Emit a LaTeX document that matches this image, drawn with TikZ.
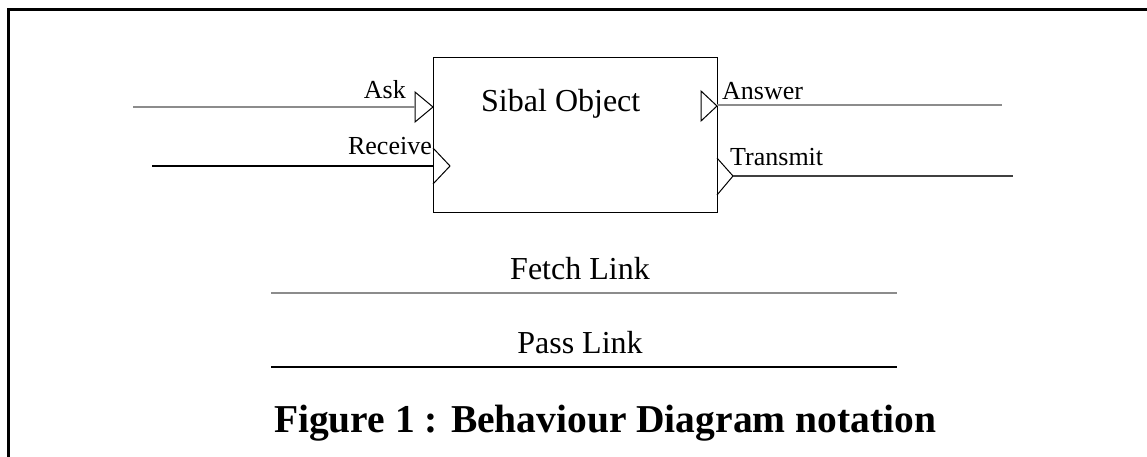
\documentclass[tikz,border=0pt]{standalone}
\usepackage{fontspec}
\setmainfont{Liberation Serif}
\begin{document}
\begin{tikzpicture}[x=1pt,y=-1pt,
  lbl/.style={inner sep=0pt,font=\fontsize{26}{30}\selectfont},
  big/.style={inner sep=0pt,font=\fontsize{32}{38}\selectfont},
  captiontext/.style={inner sep=0pt,font=\fontsize{39.5}{46}\selectfont\bfseries},
  port/.style={draw=black,line width=1pt,line join=miter},
  fetchline/.style={draw=black!45,line width=1.3pt},
  passline/.style={draw=black,line width=1.6pt}]
\useasboundingbox (0,0) rectangle (1147,457);
% frame
\draw[line width=3pt] (8,457) -- (8,10) -- (1147,10);
% object box
\node[draw,line width=1.2pt,minimum width=284pt,minimum height=155pt,inner sep=0pt,anchor=north west] (obj) at (433,57) {};
\node[big,anchor=base west] (title) at (481,112) {Sibal Object};
% ports
\coordinate (askIn) at (133,107);
\coordinate (askT) at (415,107);
\coordinate (recIn) at (152,166);
\coordinate (recT) at (433,166);
\coordinate (ansT) at (717,105);
\coordinate (ansOut) at (1002,105);
\coordinate (traT) at (733,176);
\coordinate (traOut) at (1013,176);
\draw[port] (415,92) -- (433,107) -- (415,122) -- cycle;
\draw[port] (433,148) -- (450,166) -- (433,184);
\draw[port] (701,91) -- (717,106) -- (701,121) -- cycle;
\draw[port] (717,158) -- (733,176) -- (717,195);
\draw[fetchline] (askIn) -- (askT);
\draw[passline] (recIn) -- (recT);
\draw[fetchline] (ansT) -- (ansOut);
\draw[passline,draw=black!75] (traT) -- (traOut);
\node[lbl,anchor=base east] (ask) at (406,99) {Ask};
\node[lbl,anchor=base east] (rec) at (432,155) {Receive};
\node[lbl,anchor=base west] (ans) at (722,100) {Answer};
\node[lbl,anchor=base west] (tra) at (730,165) {Transmit};
% legend
\coordinate (fA) at (271,293);
\coordinate (fB) at (897,293);
\coordinate (pA) at (271,367);
\coordinate (pB) at (897,367);
\draw[fetchline] (fA) -- (fB);
\draw[passline] (pA) -- (pB);
\node[big,anchor=base] (fetch) at (580,279) {Fetch Link};
\node[big,anchor=base] (pass) at (580,353) {Pass Link};
\node[captiontext,anchor=base] (caption) at (605,432) {Figure 1 : Behaviour Diagram notation};
\end{tikzpicture}
\end{document}
